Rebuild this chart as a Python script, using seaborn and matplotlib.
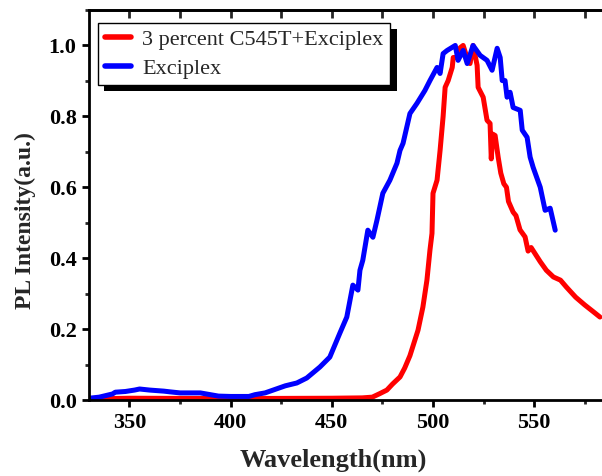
import matplotlib
matplotlib.use("Agg")
import numpy as np
import pandas as pd
import matplotlib.pyplot as plt
import matplotlib.patheffects as pe
from matplotlib.ticker import MultipleLocator
import seaborn as sns

# ─── Data ────────────────────────────────────────────────────────────────────
exc_wl = [330, 335, 341.6, 343, 348, 352.5, 355, 360, 367, 370, 375, 385, 390, 394,
          400, 409, 412, 417, 421, 424, 427, 432.7, 437.6, 444.1, 449, 454, 457.4,
          460.4, 462.9, 463.9, 465.3, 467.8, 470.3, 472.3, 475.2, 478.7, 482.2,
          483.7, 485.2, 488.6, 492.1, 496, 498.5, 502, 503.5, 505, 507, 511, 512.4,
          514.9, 516.9, 519.8, 523.3, 526.7, 529.2, 531.7, 533.2, 534.2, 535.6,
          536.6, 538.1, 539.6, 543.1, 544.1, 546.5, 548, 549.5, 553, 555.4, 557.9,
          560.4]
exc_pl = [0.005, 0.008, 0.017, 0.022, 0.024, 0.028, 0.031, 0.028, 0.025, 0.023,
          0.020, 0.020, 0.015, 0.011, 0.010, 0.010, 0.015, 0.020, 0.028, 0.034,
          0.040, 0.048, 0.062, 0.093, 0.121, 0.189, 0.234, 0.324, 0.310, 0.366,
          0.394, 0.479, 0.459, 0.507, 0.583, 0.620, 0.668, 0.704, 0.724, 0.808,
          0.837, 0.873, 0.901, 0.938, 0.921, 0.977, 0.986, 1.000, 0.958, 0.986,
          0.949, 1.000, 0.972, 0.958, 0.930, 0.992, 0.966, 0.901, 0.901, 0.854,
          0.868, 0.825, 0.817, 0.761, 0.741, 0.685, 0.656, 0.600, 0.535, 0.541,
          0.479]

dop_wl = [330, 350, 400, 450, 465, 470, 473.7, 477.2, 480, 483.7, 486, 488.6, 492.6,
          495, 497, 498.5, 499.5, 500, 502, 503.5, 505, 506, 507.5, 509.5, 510, 512,
          513.5, 514.9, 516.8, 518.3, 519.8, 521.8, 522.3, 524.8, 526.7, 528.2,
          528.8, 529.5, 530.7, 532.2, 533.5, 535, 536.3, 537.3, 539.6, 541, 543,
          545.5, 547, 548.5, 553, 556, 559.5, 563, 566, 570.5, 575, 579, 582.5]
dop_pl = [0.003, 0.005, 0.004, 0.005, 0.006, 0.008, 0.018, 0.028, 0.045, 0.065,
          0.090, 0.125, 0.197, 0.262, 0.338, 0.423, 0.470, 0.583, 0.620, 0.704,
          0.800, 0.882, 0.901, 0.938, 0.966, 0.966, 0.994, 1.000, 0.966, 0.949,
          1.000, 0.944, 0.882, 0.854, 0.789, 0.780, 0.680, 0.750, 0.746, 0.685,
          0.640, 0.610, 0.600, 0.560, 0.530, 0.520, 0.480, 0.460, 0.420, 0.430,
          0.390, 0.366, 0.347, 0.338, 0.318, 0.290, 0.268, 0.250, 0.234]

series_names = ["3 percent C545T+Exciplex", "Exciplex"]
series_colors = ["#ff0000", "#0000ff"]

df = pd.concat([
    pd.DataFrame({"wl": dop_wl, "pl": dop_pl, "sample": series_names[0]}),
    pd.DataFrame({"wl": exc_wl, "pl": exc_pl, "sample": series_names[1]}),
], ignore_index=True)

# ─── Style ───────────────────────────────────────────────────────────────────
sns.set_style("ticks")
plt.rcParams["font.family"] = ["Liberation Serif", "DejaVu Serif"]

fig = plt.figure(figsize=(6.02, 4.76), dpi=100)
ax = fig.add_axes([89 / 602, 76 / 476, 516 / 602, 390 / 476])

sns.lineplot(data=df, x="wl", y="pl", hue="sample", hue_order=series_names,
             palette=series_colors, sort=False, lw=3.6, ax=ax)

ax.set_xlim(330, 585)
ax.set_ylim(0, 1.1)
ax.xaxis.set_major_locator(MultipleLocator(50))
ax.xaxis.set_minor_locator(MultipleLocator(25))
ax.yaxis.set_major_locator(MultipleLocator(0.2))
ax.yaxis.set_minor_locator(MultipleLocator(0.1))
ax.yaxis.set_major_formatter(matplotlib.ticker.FormatStrFormatter("%.1f"))

for s in ax.spines.values():
    s.set_linewidth(2)
    s.set_color("black")

ax.tick_params(which="major", direction="out", length=5, width=2,
               labelsize=16, pad=4, colors="black")
ax.tick_params(which="minor", direction="out", length=3, width=2)
for lab in ax.get_xticklabels() + ax.get_yticklabels():
    lab.set_fontweight("bold")

# inward ticks along the top spine
top = ax.secondary_xaxis("top")
top.xaxis.set_major_locator(MultipleLocator(50))
top.xaxis.set_minor_locator(MultipleLocator(25))
top.tick_params(which="both", direction="in", length=6, width=2, labeltop=False)
top.spines["top"].set_linewidth(2)

ax.set_xlabel("Wavelength(nm)", fontsize=19, fontweight="bold")
ax.set_ylabel("PL Intensity(a.u.)", fontsize=17, fontweight="bold")
ax.xaxis.set_label_coords(0.474, -0.125)
ax.yaxis.set_label_coords(-0.102, 0.46)

leg = ax.legend(loc="upper left", bbox_to_anchor=(9 / 516, 1 - 13 / 390),
                fontsize=16, frameon=True, fancybox=False, handlelength=1.2,
                handletextpad=0.5, borderpad=0.3, labelspacing=0.35,
                borderaxespad=0)
frame = leg.get_frame()
frame.set_edgecolor("black")
frame.set_linewidth(1)
frame.set_alpha(1)
frame.set_path_effects([pe.SimplePatchShadow(offset=(4.5, -4.5),
                                             shadow_rgbFace="black", alpha=1),
                        pe.Normal()])
for line in leg.get_lines():
    line.set_linewidth(4)

fig.savefig("out.png", dpi=100)
